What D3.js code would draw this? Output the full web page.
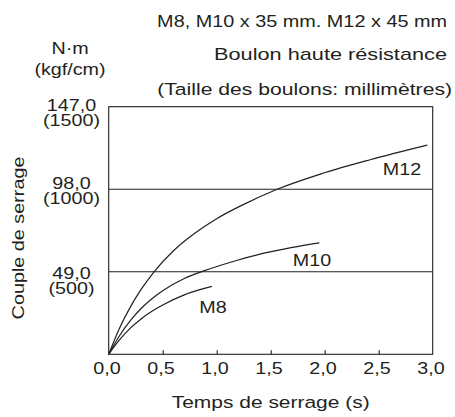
<!DOCTYPE html>
<html><head><meta charset="utf-8">
<script src="https://cdn.jsdelivr.net/npm/d3@7"></script>
<style>body{margin:0;background:#fff}svg{display:block}text{font-family:"Liberation Sans",Arial,sans-serif;fill:#231f20}</style>
</head><body><svg id="c" width="455" height="417"></svg>
<script>
const timeTicks = [0,0.5,1.0,1.5,2.0,2.5,3.0];
const torqueTicks = [49,98,147];
const torqueTickNm = ["49,0","98,0","147,0"];
const torqueTickKgf = ["(500)","(1000)","(1500)"];
const m12 = [[0,0],[0.1,15.5],[0.2,28],[0.3,38.5],[0.42,49],[0.6,61.5],[0.8,72],[1.0,80.5],[1.25,89],[1.56,98],[1.96,107],[2.42,115.5],[2.95,124.2]];
const m10 = [[0,0],[0.1,11],[0.2,20],[0.3,27.2],[0.4,33],[0.5,37.8],[0.7,45],[0.88,49.5],[1.2,56],[1.4,59.5],[1.7,63.5],[1.95,66.2]];
const m8 = [[0,0],[0.1,8.5],[0.2,15.5],[0.3,21],[0.4,25.5],[0.5,29.3],[0.7,35.3],[0.955,40.3]];
const series = [{name:"M12",data:m12,lx:402,ly:175},{name:"M10",data:m10,lx:312,ly:266},{name:"M8",data:m8,lx:213,ly:313}];

const svg = d3.select("#c");
const x = d3.scaleLinear().domain([0,3]).range([108.7,432.7]);
const y = d3.scaleLinear().domain([0,147]).range([354.3,106.7]);
const FS = 17, SX = 1.16, INK = "#231f20";
const fmt = d => d3.format(".1f")(d).replace(".",",");

function label(px, py, anchor, lines, lh, extra, width) {
  const g = svg.append("g").attr("transform", `translate(${px},${py}) ${extra||""}`);
  const t = g.append("text").attr("text-anchor", anchor).attr("font-size", FS);
  lines.forEach((s,i)=> t.append("tspan").attr("x",0).attr("y", i*(lh||0)).text(s));
  let sx = SX;
  if (width) sx = width / t.node().getComputedTextLength();
  t.attr("transform", `scale(${sx},1)`);
  return t;
}

// gridlines
svg.append("g").selectAll("line").data(torqueTicks.slice(0,2)).join("line")
  .attr("x1",x(0)).attr("x2",x(3)).attr("y1",d=>y(d)).attr("y2",d=>y(d))
  .attr("stroke",INK).attr("stroke-width",1.1);
// frame
svg.append("rect").attr("x",x(0)).attr("y",y(147)).attr("width",x(3)-x(0)).attr("height",y(0)-y(147))
  .attr("fill","none").attr("stroke",INK).attr("stroke-width",1.1);
// x axis
const xa = svg.append("g").attr("transform",`translate(0,${y(0)})`)
  .call(d3.axisBottom(x).tickValues(timeTicks).tickSize(-4).tickPadding(10).tickFormat(fmt));
xa.select(".domain").remove();
xa.selectAll(".tick line").attr("stroke",INK).attr("stroke-width",1.1).filter(d=>d===0||d===3).remove();
xa.selectAll(".tick text").attr("font-size",FS).attr("font-family","Liberation Sans, Arial, sans-serif")
  .attr("fill",INK).attr("dy","0.6em").attr("dx",-2).attr("transform",`scale(${SX},1)`);

// y labels
const ly1 = [279,189,110.5];
torqueTicks.forEach((t,i)=> label(71.5, ly1[i], "middle", [torqueTickNm[i], torqueTickKgf[i]], 15));

// curves
const line = d3.line().x(d=>x(d[0])).y(d=>y(d[1])).curve(d3.curveMonotoneX);
svg.append("g").selectAll("path").data(series).join("path")
  .attr("d",d=>line(d.data)).attr("fill","none").attr("stroke",INK).attr("stroke-width",1.2);
series.forEach(s => label(s.lx, s.ly, "middle", [s.name]));

// titles
label(447, 27, "end", ["M8, M10 x 35 mm. M12 x 45 mm"], 0, "", 290);
label(447, 60, "end", ["Boulon haute résistance"], 0, "", 233);
label(452, 95, "end", ["(Taille des boulons: millimètres)"], 0, "", 295);
label(70, 54, "middle", ["N·m","(kgf/cm)"], 21);
label(24, 238, "middle", ["Couple de serrage"], 0, "rotate(-90)", 163);
label(x(1.5), 408, "middle", ["Temps de serrage (s)"], 0, "", 198);
</script></body></html>
